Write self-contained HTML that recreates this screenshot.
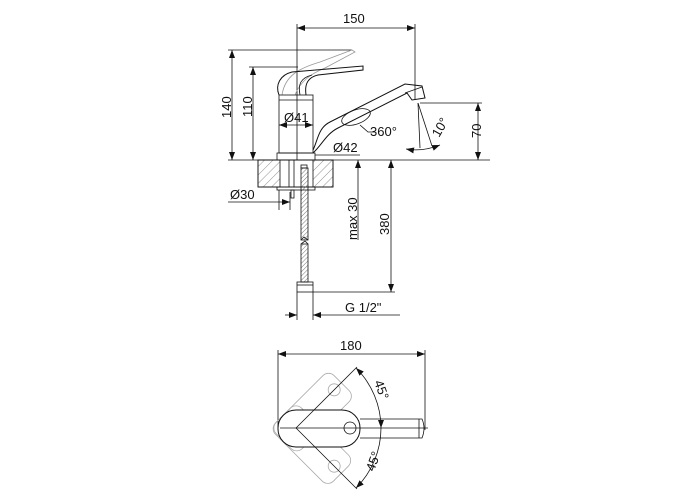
<!DOCTYPE html>
<html><head><style>body{margin:0;background:#fff}svg{display:block}text{font-family:"Liberation Sans",sans-serif;font-size:13px;fill:#111}</style></head>
<body>
<svg width="700" height="500" viewBox="0 0 700 500" xmlns="http://www.w3.org/2000/svg">
<defs>
<pattern id="h" width="6" height="6" patternUnits="userSpaceOnUse" patternTransform="rotate(45)"><line x1="0" y1="0" x2="0" y2="6" stroke="#777" stroke-width="0.8"/></pattern>
<pattern id="hs" width="3" height="3" patternUnits="userSpaceOnUse" patternTransform="rotate(45)"><line x1="0" y1="0" x2="0" y2="3" stroke="#555" stroke-width="0.8"/></pattern>
<marker id="a" markerWidth="8" markerHeight="6" refX="8" refY="3" orient="auto-start-reverse" markerUnits="userSpaceOnUse"><path d="M0,0L8,3L0,6z" fill="#111"/></marker>
</defs>
<g stroke="#111" stroke-width="0.8" fill="none">
<line x1="297" y1="28" x2="415" y2="28" marker-start="url(#a)" marker-end="url(#a)"/>
<line x1="297" y1="24" x2="297" y2="160"/>
<line x1="415" y1="24" x2="415" y2="100"/>
<line x1="232" y1="50" x2="232" y2="160" marker-start="url(#a)" marker-end="url(#a)"/>
<line x1="228" y1="50" x2="352" y2="50"/>
<line x1="253" y1="67" x2="253" y2="160" marker-start="url(#a)" marker-end="url(#a)"/>
<line x1="249" y1="67" x2="298" y2="67"/>
<line x1="228" y1="160" x2="490" y2="160"/>
<path d="M282,95 C285,75 300,68 320,62 L352,50 L355,52 L325,68 C310,74 300,82 295,95" stroke="#999"/>
<rect x="279" y="95" width="34" height="58"/>
<line x1="279" y1="100" x2="313" y2="100"/>
<path d="M279,95 C275,85 280,75 292,72 L363,66 L363,70 L318,75 C305,78 305,88 306,95" stroke-width="1"/>
<path d="M300,95 C298,85 300,78 312,75"/>
<rect x="277" y="153" width="38" height="7"/>
<path d="M313,150 C318,140 318,128 330,122 L405,84 L422,86 L425,98 L412,100 L407,93 L338,128 C326,134 322,145 313,153" stroke-width="1"/>
<line x1="405" y1="93" x2="422" y2="87"/>
<ellipse cx="356" cy="117" rx="15" ry="7" transform="rotate(-20 356 117)"/>
<path d="M360,125 L368,132 L375,132"/>
<line x1="279" y1="125" x2="313" y2="125" marker-start="url(#a)" marker-end="url(#a)"/>
<line x1="315" y1="155" x2="360" y2="155"/>
<line x1="420" y1="103" x2="482" y2="103"/>
<line x1="478" y1="103" x2="478" y2="160" marker-start="url(#a)" marker-end="url(#a)"/>
<line x1="418" y1="103" x2="420" y2="148"/>
<line x1="418" y1="103" x2="432" y2="146"/>
<path d="M406,149 Q422,152 440,145" marker-start="url(#a)" marker-end="url(#a)"/>
<rect x="258" y="160" width="22" height="27" fill="url(#h)"/>
<rect x="313" y="160" width="20" height="27" fill="url(#h)"/>
<rect x="258" y="160" width="75" height="27"/>
<rect x="277" y="187" width="38" height="3"/>
<line x1="289" y1="160" x2="289" y2="187"/>
<line x1="294" y1="160" x2="294" y2="187"/>
<rect x="301" y="165" width="6" height="3"/>
<rect x="291" y="190" width="3" height="8"/>
<rect x="301" y="168" width="7" height="72" fill="url(#hs)"/>
<rect x="301" y="244" width="7" height="38" fill="url(#hs)"/>
<path d="M301,240 L304,237 L308,240" />
<path d="M301,244 L305,241 L308,244" />
<rect x="297" y="282" width="16" height="10"/>
<line x1="297" y1="285" x2="313" y2="285"/>
<line x1="228" y1="202" x2="290" y2="202" marker-end="url(#a)"/>
<line x1="279" y1="190" x2="279" y2="210"/>
<line x1="290" y1="192" x2="290" y2="210"/>
<line x1="358" y1="160" x2="358" y2="240" marker-start="url(#a)"/>
<line x1="391" y1="160" x2="391" y2="292" marker-start="url(#a)" marker-end="url(#a)"/>
<line x1="313" y1="292" x2="395" y2="292"/>
<line x1="297" y1="292" x2="297" y2="320"/>
<line x1="313" y1="292" x2="313" y2="320"/>
<line x1="285" y1="315" x2="297" y2="315" marker-end="url(#a)"/>
<line x1="313" y1="315" x2="400" y2="315" marker-start="url(#a)"/>
<line x1="278" y1="354" x2="425" y2="354" marker-start="url(#a)" marker-end="url(#a)"/>
<line x1="278" y1="350" x2="278" y2="430"/>
<line x1="425" y1="350" x2="425" y2="430"/>
<g stroke="#aaa">
<g transform="rotate(-45 296 428)"><rect x="278" y="410" width="82" height="37" rx="8"/><circle cx="350" cy="428" r="6"/></g>
<g transform="rotate(45 296 428)"><rect x="278" y="410" width="82" height="37" rx="8"/><circle cx="350" cy="428" r="6"/></g>
</g>
<rect x="278" y="410" width="82" height="37" rx="18" fill="#fff" stroke-width="1"/>
<circle cx="350" cy="428" r="6"/>
<path d="M360,419 L422,419 Q426,428 422,438 L360,438"/>
<line x1="419" y1="419" x2="419" y2="438"/>
<line x1="280" y1="428" x2="428" y2="428"/>
<line x1="296" y1="428" x2="357" y2="367"/>
<line x1="296" y1="428" x2="357" y2="489"/>
<path d="M356,368 A85,85 0 0 1 381,428" marker-start="url(#a)" marker-end="url(#a)"/>
<path d="M381,428 A85,85 0 0 1 356,488" marker-end="url(#a)"/>
</g>
<text x="343" y="23">150</text>
<text transform="translate(231,118) rotate(-90)">140</text>
<text transform="translate(252,117) rotate(-90)">110</text>
<text x="284" y="122">Ø41</text>
<text x="333" y="152">Ø42</text>
<text x="370" y="136">360°</text>
<text transform="translate(439,138) rotate(-60)">10°</text>
<text transform="translate(481,138) rotate(-90)">70</text>
<text x="230" y="199">Ø30</text>
<text transform="translate(357,240) rotate(-90)">max 30</text>
<text transform="translate(389,235) rotate(-90)">380</text>
<text x="345" y="312">G 1/2"</text>
<text x="340" y="350">180</text>
<text transform="translate(374,382) rotate(70)">45°</text>
<text transform="translate(374,472) rotate(-70)">45°</text>
</svg>
</body></html>
